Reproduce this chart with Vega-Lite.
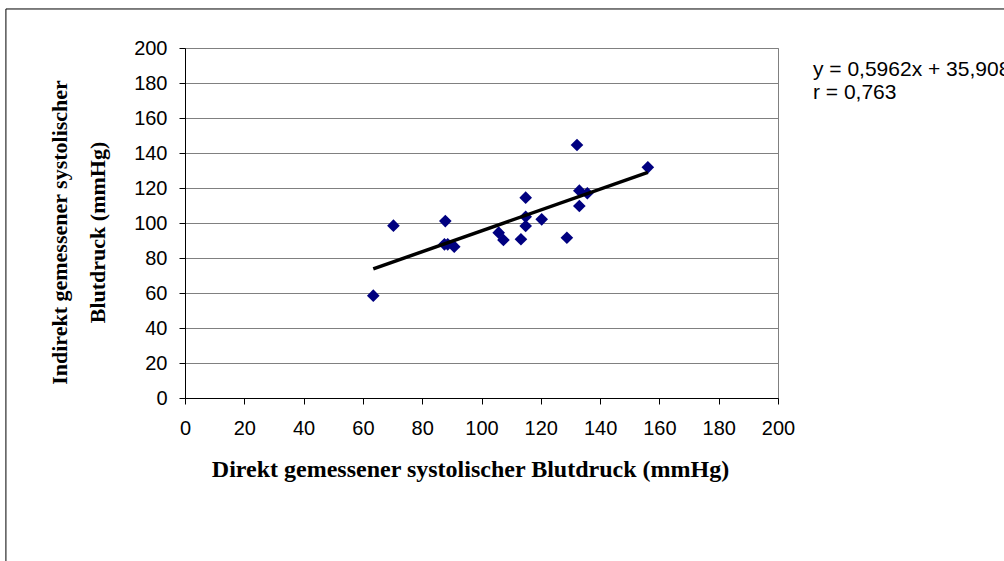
{
  "$schema": "https://vega.github.io/schema/vega-lite/v6.json",
  "width": 593,
  "height": 350,
  "autosize": {"type": "none"},
  "padding": {"left": 185, "top": 48, "right": 226, "bottom": 163},
  "background": "white",
  "config": {
    "view": {"stroke": "#808080", "strokeWidth": 1},
    "axis": {
      "labelFont": "Liberation Sans",
      "labelFontSize": 20,
      "labelColor": "black",
      "titleFont": "Liberation Serif",
      "titleFontSize": 22,
      "titleFontWeight": "bold",
      "titleColor": "black",
      "domainColor": "black",
      "tickColor": "black",
      "tickSize": 6,
      "gridColor": "#808080",
      "gridWidth": 1,
      "labelOverlap": false
    }
  },
  "datasets": {
    "points": [
      {"direkt": 63.5, "indirekt": 58.5},
      {"direkt": 70.3, "indirekt": 98.5},
      {"direkt": 87.8, "indirekt": 101.1},
      {"direkt": 87.5, "indirekt": 87.8},
      {"direkt": 88.6, "indirekt": 87.8},
      {"direkt": 90.8, "indirekt": 86.5},
      {"direkt": 105.8, "indirekt": 94.5},
      {"direkt": 107.4, "indirekt": 90.3},
      {"direkt": 113.3, "indirekt": 90.7},
      {"direkt": 114.9, "indirekt": 114.5},
      {"direkt": 114.9, "indirekt": 103.6},
      {"direkt": 114.9, "indirekt": 98.3},
      {"direkt": 120.3, "indirekt": 102.1},
      {"direkt": 128.8, "indirekt": 91.6},
      {"direkt": 133.0, "indirekt": 118.5},
      {"direkt": 135.7, "indirekt": 117.0},
      {"direkt": 133.0, "indirekt": 109.7},
      {"direkt": 156.1, "indirekt": 131.8},
      {"direkt": 132.2, "indirekt": 144.6}
    ],
    "trend": [
      {"direkt": 63.5, "indirekt": 73.77},
      {"direkt": 156.1, "indirekt": 128.97}
    ],
    "label": [
      {"direkt": 211.8, "indirekt": 193.5, "text": ["y = 0,5962x + 35,908", "r = 0,763"]}
    ],
    "frame": [
      {"x1": -60.4, "x2": 280, "y1": 222.3, "y2": -110}
    ]
  },
  "encoding": {
    "x": {
      "field": "direkt", "type": "quantitative",
      "scale": {"domain": [0, 200], "nice": false, "zero": true},
      "axis": {
        "title": "Direkt gemessener systolischer Blutdruck (mmHg)",
        "values": [0, 20, 40, 60, 80, 100, 120, 140, 160, 180, 200],
        "grid": false,
        "labelPadding": 14,
        "titlePadding": 19,
        "titleFontSize": 24,
        "titleX": 285,
        "labelFlush": false
      }
    },
    "y": {
      "field": "indirekt", "type": "quantitative",
      "scale": {"domain": [0, 200], "nice": false},
      "axis": {
        "title": ["Indirekt  gemessener systolischer", "Blutdruck (mmHg)"],
        "titleLineHeight": 38,
        "values": [0, 20, 40, 60, 80, 100, 120, 140, 160, 180, 200],
        "grid": true,
        "labelPadding": 12,
        "titlePadding": 24,
        "titleY": 184,
        "labelFlush": false
      }
    }
  },
  "layer": [
    {
      "data": {"name": "frame"},
      "mark": {"type": "rect", "fill": null, "stroke": "black", "strokeWidth": 1, "clip": false},
      "encoding": {
        "x": {"field": "x1", "type": "quantitative"},
        "x2": {"field": "x2"},
        "y": {"field": "y1", "type": "quantitative"},
        "y2": {"field": "y2"}
      }
    },
    {
      "data": {"name": "points"},
      "mark": {"type": "point", "shape": "diamond", "filled": true, "color": "#000080", "opacity": 1, "size": 160}
    },
    {
      "data": {"name": "trend"},
      "mark": {"type": "line", "color": "black", "strokeWidth": 3.5}
    },
    {
      "data": {"name": "label"},
      "mark": {"type": "text", "align": "left", "baseline": "top", "font": "Liberation Sans", "fontSize": 21, "lineHeight": 23, "color": "black"},
      "encoding": {
        "text": {"field": "text"}
      }
    }
  ]
}
